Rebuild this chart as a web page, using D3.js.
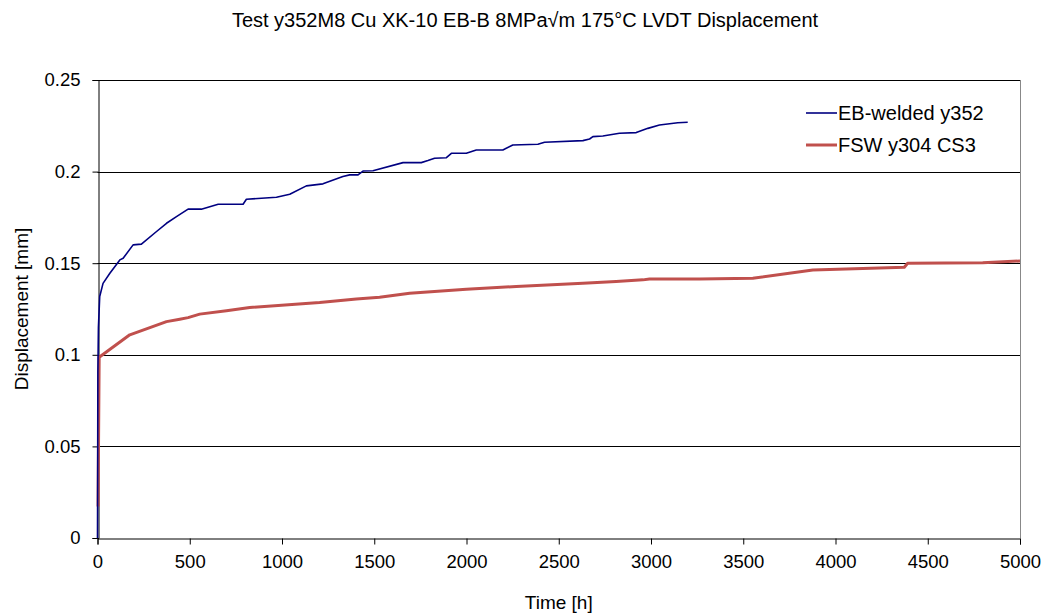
<!DOCTYPE html>
<html>
<head>
<meta charset="utf-8">
<script src="https://cdn.jsdelivr.net/npm/d3@7"></script>
<style>
  body { margin: 0; background: #fff; }
  text { font-family: "Liberation Sans", Arial, sans-serif; fill: #000; }
</style>
</head>
<body>
<script>
// chart size
var width = 1048,
    height = 614;

// plot area
var margin = {left: 97.5, right: 28, top: 80, bottom: 76};

// EB-welded y352 (time h, displacement mm)
var ebTime = [0, 0.5, 2, 5, 12, 30, 67, 121, 139, 193, 238, 320, 374, 428, 491, 563, 654, 789, 807, 970, 1042, 1132, 1222, 1330, 1367, 1412, 1439, 1493, 1656, 1755, 1791, 1827, 1891, 1918, 1999, 2053, 2197, 2251, 2387, 2423, 2631, 2667, 2685, 2739, 2829, 2920, 2983, 3046, 3145, 3199];
var ebDisp = [0, 0.017, 0.09, 0.115, 0.1318, 0.139, 0.1445, 0.1518, 0.1527, 0.160, 0.1604, 0.1673, 0.1718, 0.1754, 0.1795, 0.1795, 0.1822, 0.1822, 0.1849, 0.186, 0.1876, 0.1922, 0.1933, 0.1973, 0.1982, 0.1982, 0.2003, 0.2005, 0.2049, 0.2049, 0.206, 0.2073, 0.2076, 0.21, 0.21, 0.2118, 0.2118, 0.2145, 0.2149, 0.216, 0.2169, 0.2178, 0.2191, 0.2194, 0.2209, 0.2213, 0.2236, 0.2254, 0.2267, 0.2269];

// FSW y304 CS3
var fswTime = [3, 9, 175, 374, 446, 491, 554, 699, 825, 1204, 1403, 1529, 1692, 1999, 2270, 2631, 2811, 2956, 2992, 3263, 3552, 3877, 4373, 4391, 4798, 5000];
var fswDisp = [0.0172, 0.0987, 0.1109, 0.1181, 0.1194, 0.1203, 0.1222, 0.124, 0.1258, 0.1285, 0.1305, 0.1314, 0.1336, 0.1358, 0.1373, 0.1391, 0.14, 0.1409, 0.1414, 0.1414, 0.1418, 0.1463, 0.1478, 0.15, 0.1503, 0.1512];

var xTicks = [0, 500, 1000, 1500, 2000, 2500, 3000, 3500, 4000, 4500, 5000];
var yTicks = [0, 0.05, 0.1, 0.15, 0.2, 0.25];
var yTickLabels = ["0", "0.05", "0.1", "0.15", "0.2", "0.25"];

var seriesNames = ["EB-welded y352", "FSW y304 CS3"];
var seriesColors = ["#000080", "#C0504D"];
var seriesWidths = [1.6, 3];

var svg = d3.select("body").append("svg")
    .attr("width", width)
    .attr("height", height);

var x = d3.scaleLinear()
    .domain([0, 5000])
    .range([margin.left, width - margin.right]);

var y = d3.scaleLinear()
    .domain([0, 0.25])
    .range([height - margin.bottom, margin.top]);

// grid lines
svg.append("g")
  .selectAll("line")
  .data(yTicks.slice(1))
  .enter().append("line")
    .attr("x1", x(0))
    .attr("x2", x(5000))
    .attr("y1", function(d) { return Math.round(y(d)) + 0.5; })
    .attr("y2", function(d) { return Math.round(y(d)) + 0.5; })
    .attr("stroke", "#000")
    .attr("stroke-width", 1);

// right border of plot area
svg.append("line")
    .attr("x1", Math.round(x(5000)) + 0.5)
    .attr("x2", Math.round(x(5000)) + 0.5)
    .attr("y1", y(0.25))
    .attr("y2", y(0))
    .attr("stroke", "#888");

// axes
var yAxis = svg.append("g")
    .attr("transform", "translate(" + (Math.round(x(0)) + 0.5) + ",0)")
    .call(d3.axisLeft(y)
      .tickValues(yTicks)
      .tickSize(6)
      .tickPadding(12)
      .tickFormat(function(d, i) { return yTickLabels[i]; }));

var xAxis = svg.append("g")
    .attr("transform", "translate(0," + (Math.round(y(0)) + 0.5) + ")")
    .call(d3.axisBottom(x)
      .tickValues(xTicks)
      .tickSize(6)
      .tickPadding(10)
      .tickFormat(d3.format("d")));

svg.selectAll(".tick text")
    .style("font-size", "18.5px")
    .style("font-family", "Liberation Sans, Arial, sans-serif");
svg.selectAll(".domain").attr("stroke", "#000");
svg.selectAll(".tick line").attr("stroke", "#000");

// lines
var line = d3.line()
    .x(function(d) { return x(d[0]); })
    .y(function(d) { return y(d[1]); });

var series = [
  ebTime.map(function(t, i) { return [t, ebDisp[i]]; }),
  fswTime.map(function(t, i) { return [t, fswDisp[i]]; })
];

svg.selectAll(".series")
  .data([1, 0])
  .enter().append("path")
    .attr("class", "series")
    .attr("d", function(i) { return line(series[i]); })
    .attr("fill", "none")
    .attr("stroke", function(i) { return seriesColors[i]; })
    .attr("stroke-width", function(i) { return seriesWidths[i]; })
    .attr("stroke-linejoin", "round");

// title
svg.append("text")
    .attr("x", 525)
    .attr("y", 27)
    .attr("text-anchor", "middle")
    .style("font-size", "20px")
    .text("Test y352M8 Cu XK-10 EB-B 8MPa\u221Am 175\u00B0C LVDT Displacement");

// axis titles
svg.append("text")
    .attr("x", (x(0) + x(5000)) / 2)
    .attr("y", 609)
    .attr("text-anchor", "middle")
    .style("font-size", "19px")
    .text("Time [h]");

svg.append("text")
    .attr("transform", "translate(28," + ((y(0) + y(0.25)) / 2) + ") rotate(-90)")
    .attr("text-anchor", "middle")
    .style("font-size", "19px")
    .text("Displacement [mm]");

// legend
var legend = svg.append("g")
    .attr("transform", "translate(806,113)");

var item = legend.selectAll("g")
  .data(seriesNames)
  .enter().append("g")
    .attr("transform", function(d, i) { return "translate(0," + (i * 32) + ")"; });

item.append("line")
    .attr("x1", 0)
    .attr("x2", 31)
    .attr("stroke", function(d, i) { return seriesColors[i]; })
    .attr("stroke-width", function(d, i) { return seriesWidths[i]; });

item.append("text")
    .attr("x", 32)
    .attr("y", 7)
    .style("font-size", "20px")
    .text(function(d) { return d; });
</script>
</body>
</html>
